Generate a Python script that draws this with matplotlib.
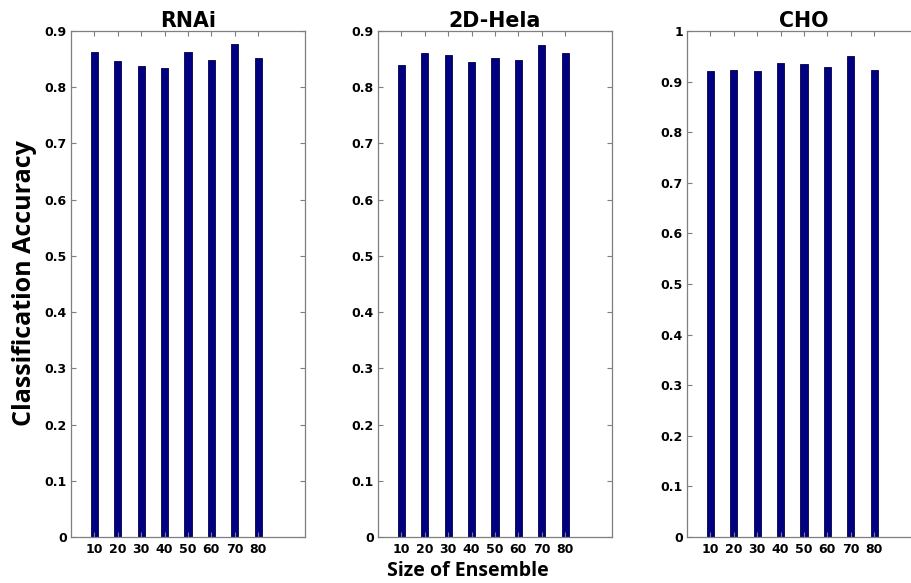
"""plot.py

Classification accuracy against ensemble size for three image datasets.
"""

import matplotlib

matplotlib.use("Agg")
import matplotlib.pyplot as plt

# Ensemble sizes shared by every panel
ensemble_sizes = [10, 20, 30, 40, 50, 60, 70, 80]

# Accuracy per dataset
rnai_acc = [0.862, 0.847, 0.837, 0.834, 0.862, 0.848, 0.877, 0.852]
hela_acc = [0.840, 0.861, 0.857, 0.845, 0.852, 0.849, 0.875, 0.861]
cho_acc = [0.921, 0.923, 0.920, 0.937, 0.935, 0.929, 0.950, 0.922]

titles = ["RNAi", "2D-Hela", "CHO"]
y_tops = [0.9, 0.9, 1.0]

BAR_COLOR = "#000080"
SPINE_COLOR = "#7f7f7f"

fig = plt.figure(figsize=(9.11, 5.83), dpi=100)
fig.patch.set_facecolor("white")

# Panel placement in figure coordinates (last panel runs past the right edge)
lefts = [0.0779, 0.4149, 0.7541]
width = 0.2569
bottom = 0.0789
height = 0.868

for left, title, acc, top in zip(lefts, titles, [rnai_acc, hela_acc, cho_acc], y_tops):
    ax = fig.add_axes([left, bottom, width, height])
    ax.bar(ensemble_sizes, acc, width=3.1, color=BAR_COLOR,
           edgecolor="#00004a", linewidth=0.6)
    ax.set_xlim(0, 100)
    ax.set_ylim(0, top)
    ax.set_xticks(ensemble_sizes)
    ax.set_xticklabels([str(s) for s in ensemble_sizes])
    yt = [round(v * 0.1, 1) for v in range(int(round(top * 10)) + 1)]
    ax.set_yticks(yt)
    ax.set_yticklabels(["0" if v == 0 else ("1" if v == 1 else f"{v:.1f}") for v in yt])
    for lbl in ax.get_xticklabels() + ax.get_yticklabels():
        lbl.set_fontweight("bold")
        lbl.set_fontsize(9)
        lbl.set_family("DejaVu Sans")
    ax.tick_params(direction="in", top=True, right=True, length=3.5,
                   width=0.8, color=SPINE_COLOR)
    ax.tick_params(axis="y", pad=3)
    ax.tick_params(axis="x", pad=4)
    for sp in ax.spines.values():
        sp.set_color(SPINE_COLOR)
        sp.set_linewidth(0.9)
    ax.set_title(title, fontsize=14.8, fontweight="bold", family="DejaVu Sans",
                 pad=2.5)

fig.text(0.027, 0.515, "Classification Accuracy", rotation=90, ha="center",
         va="center", fontsize=18, fontweight="bold", family="Open Sans")
fig.text(0.514, 0.02, "Size of Ensemble", ha="center", va="center",
         fontsize=14, fontweight="bold", family="Open Sans")

fig.savefig("out.png", dpi=100, facecolor="white")
